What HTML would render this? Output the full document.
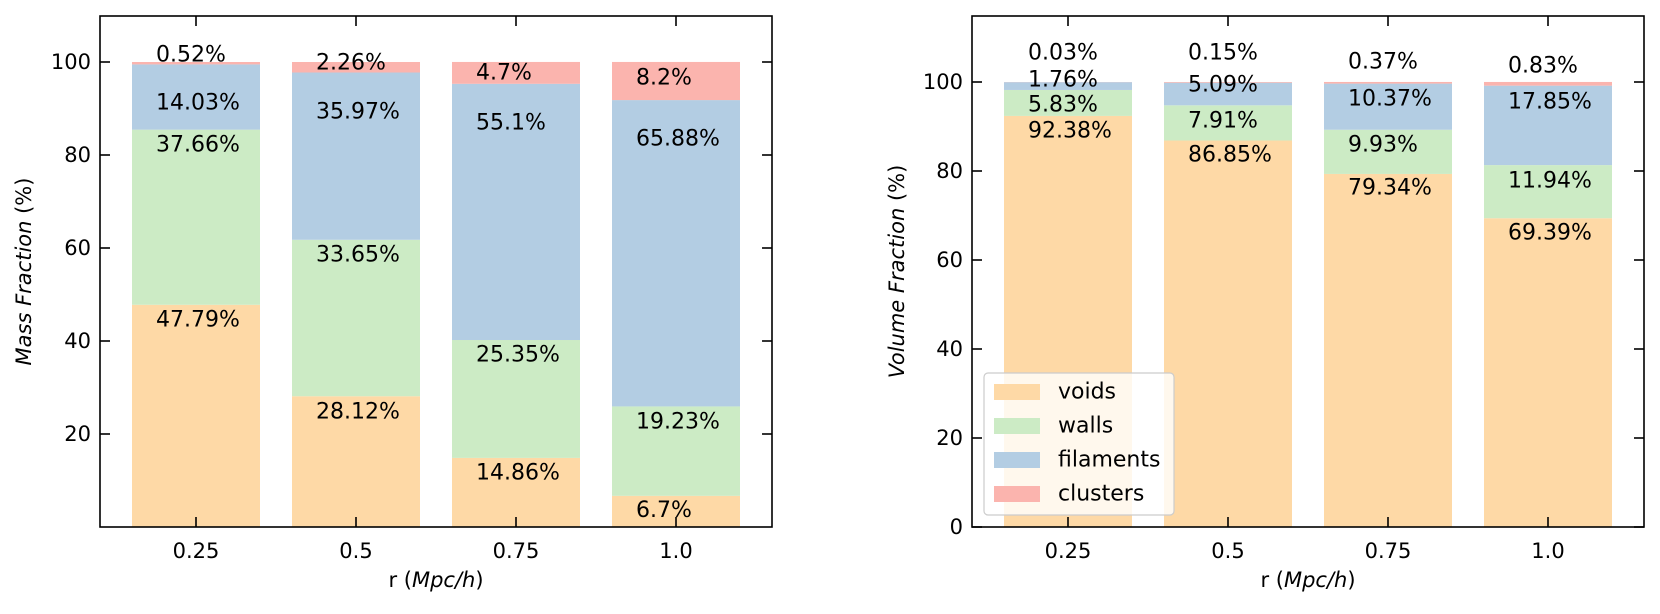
<!DOCTYPE html>
<html><head><meta charset="utf-8"><style>
body{margin:0;background:#fff}
svg text{font-family:"DejaVu Sans","Liberation Sans",sans-serif;fill:#000}
</style></head><body>
<svg id="c" width="1660" height="609" viewBox="0 0 1660 609"></svg>
<script>
const categories=["0.25","0.5","0.75","1.0"];
const series=["voids","walls","filaments","clusters"];
const colors=["#FED9A6","#CCEBC5","#B3CDE3","#FBB4AE"];
const massVoids=[47.79,28.12,14.86,6.7];
const massWalls=[37.66,33.65,25.35,19.23];
const massFil=[14.03,35.97,55.1,65.88];
const massClu=[0.52,2.26,4.7,8.2];
const volVoids=[92.38,86.85,79.34,69.39];
const volWalls=[5.83,7.91,9.93,11.94];
const volFil=[1.76,5.09,10.37,17.85];
const volClu=[0.03,0.15,0.37,0.83];
const massLabelY=[[44.5,24.7,11.6,3.6],[82.2,58.5,37.0,22.6],[91.2,89.2,86.9,83.4],[101.5,99.8,97.6,96.6]];
const volLabelY=[[89.0,83.6,76.2,66.1],[94.8,91.2,85.8,77.8],[100.4,99.3,96.2,95.5],[106.5,106.5,104.5,103.6]];
const massTicks=[20,40,60,80,100];
const volTicks=[0,20,40,60,80,100];
const NS="http://www.w3.org/2000/svg";
const svg=document.getElementById('c');
function mk(t,a,p){const e=document.createElementNS(NS,t);for(const k in a)e.setAttribute(k,a[k]);(p||svg).appendChild(e);return e;}
function panel(o){
  const g=mk('g',{});
  
  
  const x=i=>o.x0+(i+0.6)*o.pitch;
  const y=v=>o.bottom-v*o.scale;
  const vals=o.vals;
  for(let i=0;i<categories.length;i++){
    let cum=0;
    for(let s=0;s<4;s++){
      const v=vals[s][i];
      const r=mk('rect',{x:x(i)-0.4*o.pitch,y:y(cum+v),width:0.8*o.pitch,height:v*o.scale,fill:colors[s]},g);
      
      
      cum+=v;
    }
  }
  for(let i=0;i<categories.length;i++){
    for(let s=0;s<4;s++){
      const t=mk('text',{x:x(i)-0.25*o.pitch,y:y(o.labY[s][i]),'font-size':22,'dominant-baseline':'central'},g);
      t.textContent=vals[s][i]+'%';
      
      
    }
  }
  const right=o.x0+4.2*o.pitch;
  const fr=mk('rect',{x:o.x0,y:o.top,width:right-o.x0,height:o.bottom-o.top,fill:'none',stroke:'#000','stroke-width':1.6},g);
  
  
  for(let i=0;i<categories.length;i++){
    mk('line',{x1:x(i),x2:x(i),y1:o.bottom,y2:o.bottom-10,stroke:'#000','stroke-width':1.6},g);
    mk('line',{x1:x(i),x2:x(i),y1:o.top,y2:o.top+10,stroke:'#000','stroke-width':1.6},g);
    const t=mk('text',{x:x(i),y:o.bottom+24,'font-size':21,'text-anchor':'middle','dominant-baseline':'central'},g);
    t.textContent=categories[i];
    
    
  }
  for(const v of o.ticks){
    mk('line',{x1:o.x0,x2:o.x0+10,y1:y(v),y2:y(v),stroke:'#000','stroke-width':1.6},g);
    mk('line',{x1:right,x2:right-10,y1:y(v),y2:y(v),stroke:'#000','stroke-width':1.6},g);
    const t=mk('text',{x:o.x0-9,y:y(v),'font-size':21,'text-anchor':'end','dominant-baseline':'central'},g);
    t.textContent=v;
    
    
  }
  const xl=mk('text',{x:(o.x0+right)/2,y:580,'font-size':21,'text-anchor':'middle','dominant-baseline':'central'},g);
  xl.innerHTML='r (<tspan font-style="italic">Mpc/h</tspan>)';
  
  
  const yl=mk('text',{x:0,y:0,'font-size':21,'text-anchor':'middle','dominant-baseline':'central',transform:'translate('+o.ylx+','+(o.top+o.bottom)/2+') rotate(-90)'},g);
  yl.innerHTML='<tspan font-style="italic">'+o.ytitle+'</tspan> (%)';
  
  
}
panel({name:'mass-fraction-panel',x0:100,pitch:160,top:16,bottom:527,scale:4.65,vals:[massVoids,massWalls,massFil,massClu],labY:massLabelY,ticks:massTicks,ytitle:'Mass Fraction',ylx:24});
panel({name:'volume-fraction-panel',x0:972,pitch:160,top:16,bottom:527,scale:4.45,vals:[volVoids,volWalls,volFil,volClu],labY:volLabelY,ticks:volTicks,ytitle:'Volume Fraction',ylx:897});
const lg=mk('g',{});


mk('rect',{x:984,y:373,width:190,height:142,rx:4,fill:'#fff','fill-opacity':0.8,stroke:'#ccc','stroke-width':1.2},lg);
for(let s=0;s<4;s++){
  const r=mk('rect',{x:994,y:384+s*34,width:46,height:16,fill:colors[s]},lg);
  
  
  const t=mk('text',{x:1058,y:392+s*34,'font-size':22,'dominant-baseline':'central'},lg);
  t.textContent=series[s];
  
  
}
</script>
</body></html>
